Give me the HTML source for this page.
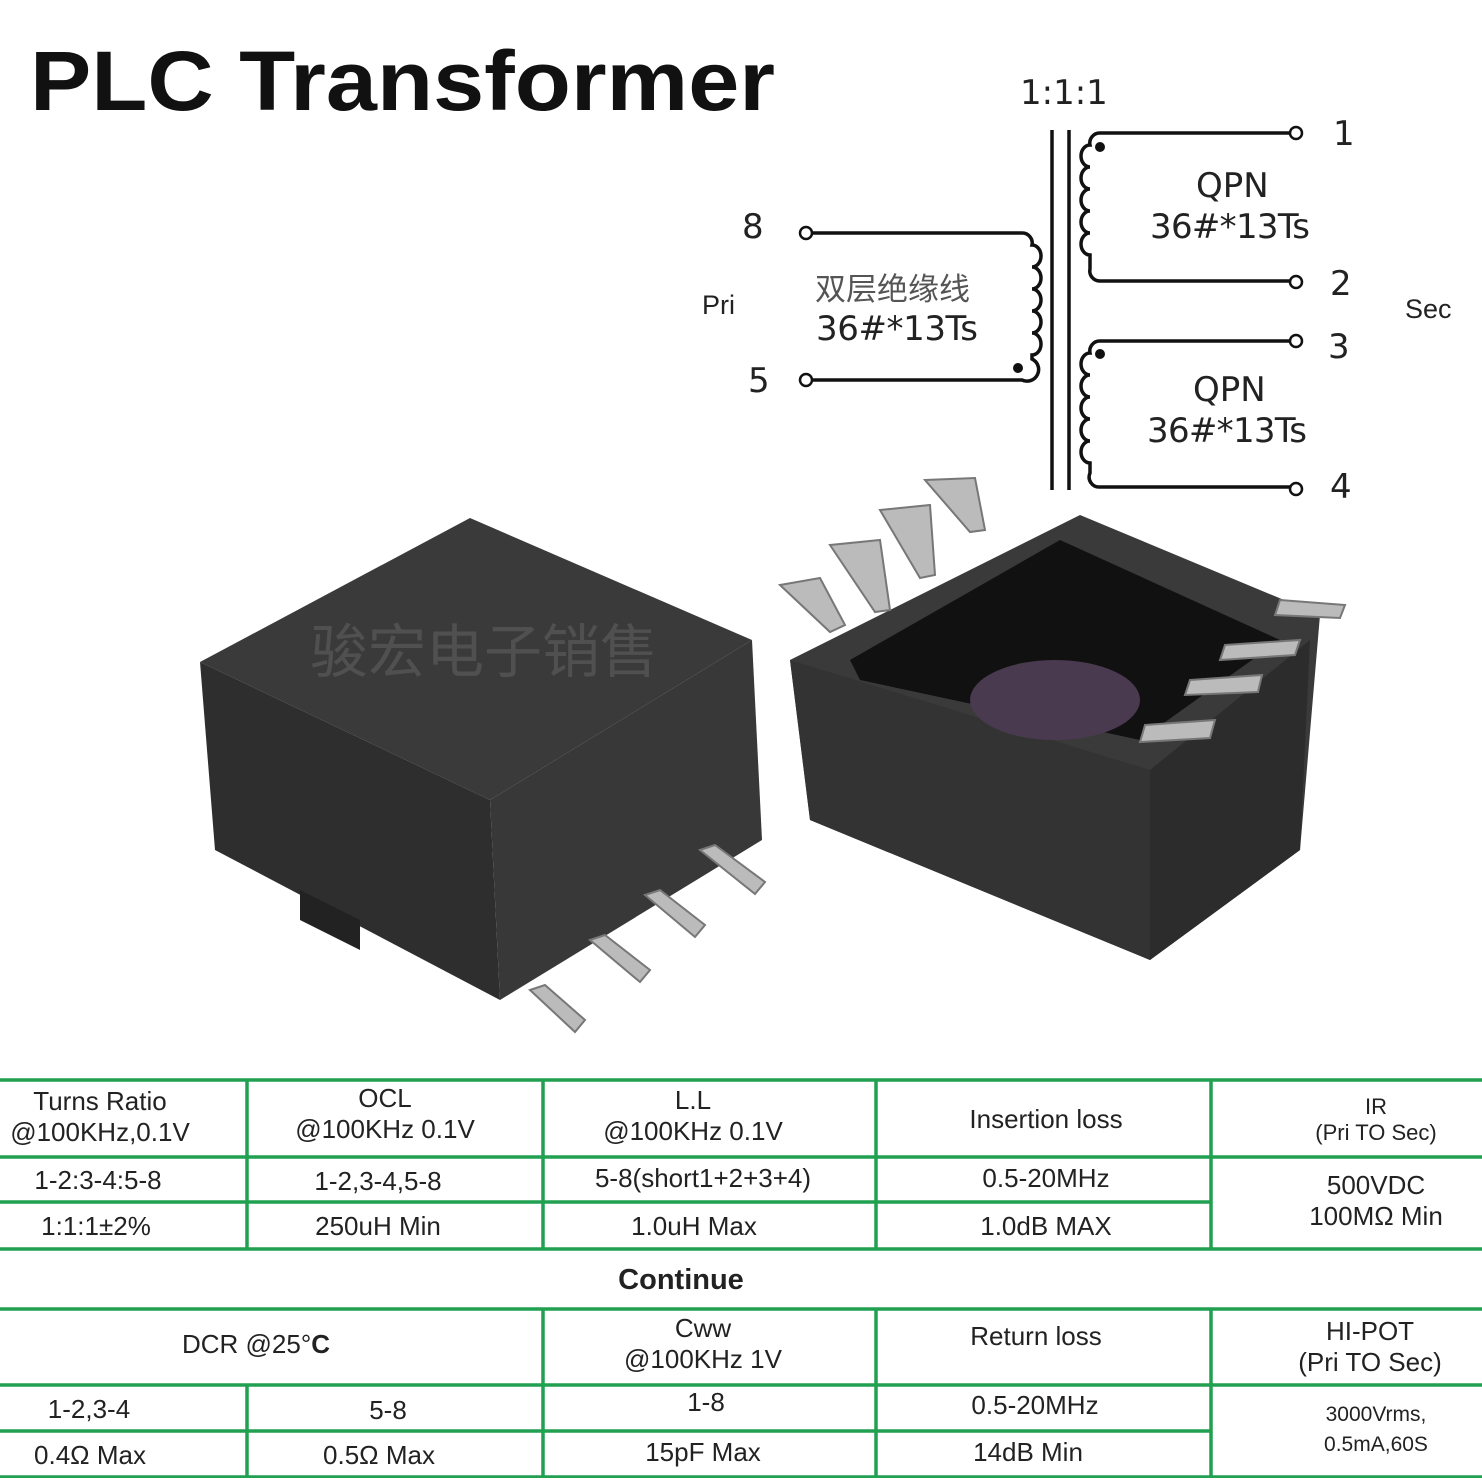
<!DOCTYPE html>
<html><head><meta charset="utf-8"><style>
body{margin:0;width:1482px;height:1482px;background:#fff;position:relative;overflow:hidden;font-family:"Liberation Sans","Noto Sans CJK SC",sans-serif;}
.t{position:absolute;color:#222;text-align:center;line-height:1.2;white-space:nowrap}
</style></head><body>
<svg width="1482" height="1482" style="position:absolute;left:0;top:0">
<text x="30" y="110" font-family="Liberation Sans,sans-serif" font-weight="bold" font-size="84" fill="#111" textLength="745" lengthAdjust="spacingAndGlyphs">PLC Transformer</text>
<g font-family="DejaVu Sans,sans-serif" font-size="34" fill="#222">
<text x="1020" y="104">1:1:1</text>
<text x="1333" y="145">1</text><text x="1330" y="295">2</text><text x="1328" y="358">3</text><text x="1330" y="498">4</text>
<text x="742" y="238">8</text><text x="748" y="392">5</text>
<text x="1196" y="197">QPN</text><text x="1150" y="238" textLength="160">36#*13Ts</text>
<text x="1193" y="401">QPN</text><text x="1147" y="442" textLength="160">36#*13Ts</text>
<text x="816" y="340" textLength="162">36#*13Ts</text>
</g>
<text x="815" y="300" font-family="Noto Sans CJK SC,sans-serif" font-size="31" fill="#555">双层绝缘线</text>
<text x="702" y="314" font-family="Liberation Sans,sans-serif" font-size="27" fill="#222">Pri</text>
<text x="1405" y="318" font-family="Liberation Sans,sans-serif" font-size="27" fill="#222">Sec</text>
<g stroke="#111" stroke-width="3.5" fill="none">
<line x1="1052" y1="130" x2="1052" y2="490"/><line x1="1069" y1="130" x2="1069" y2="490"/>
<path d="M1290 133 H1100 a10 10 0 0 0 -10 12 a9 11 0 0 0 0 22 a9 11 0 0 0 0 22 a9 11 0 0 0 0 22 a9 11 0 0 0 0 22 a9 11 0 0 0 0 22 v14 a10 10 0 0 0 10 12 H1290"/>
<path d="M1290 341 H1100 a10 10 0 0 0 -10 12 a9 11 0 0 0 0 22 a9 11 0 0 0 0 22 a9 11 0 0 0 0 22 a9 11 0 0 0 0 22 a9 11 0 0 0 0 22 v10 a10 10 0 0 0 10 14 H1290"/>
<path d="M812 233 H1022 a10 10 0 0 1 10 12 a9 11 0 0 1 0 22 a9 11 0 0 1 0 22 a9 11 0 0 1 0 22 a9 11 0 0 1 0 22 a9 11 0 0 1 0 22 v4 a10 10 0 0 1 -10 21 H812"/>
<circle cx="1296" cy="133" r="6" stroke-width="2.5" fill="#fff"/><circle cx="1296" cy="282" r="6" stroke-width="2.5" fill="#fff"/>
<circle cx="1296" cy="341" r="6" stroke-width="2.5" fill="#fff"/><circle cx="1296" cy="489" r="6" stroke-width="2.5" fill="#fff"/>
<circle cx="806" cy="233" r="6" stroke-width="2.5" fill="#fff"/><circle cx="806" cy="380" r="6" stroke-width="2.5" fill="#fff"/>
</g>
<circle cx="1100" cy="147" r="5" fill="#111"/><circle cx="1100" cy="354" r="5" fill="#111"/><circle cx="1018" cy="368" r="5" fill="#111"/>
<!-- left component -->
<polygon points="200,662 470,518 752,640 490,800" fill="#3a3a3a"/>
<polygon points="200,662 490,800 500,1000 215,850" fill="#2e2e2e"/>
<polygon points="490,800 752,640 762,840 500,1000" fill="#383838"/>
<polygon points="300,890 360,920 360,950 300,920" fill="#222"/>
<g fill="#bbb" stroke="#777" stroke-width="2">
<polygon points="530,990 545,985 585,1020 575,1032"/><polygon points="590,940 605,935 650,970 640,982"/>
<polygon points="645,895 660,890 705,925 695,937"/><polygon points="700,850 715,845 765,882 755,894"/>
</g>
<text x="310" y="672" font-family="Noto Sans CJK SC,sans-serif" font-size="58" fill="#555" fill-opacity="0.85">骏宏电子销售</text>
<!-- right component -->
<polygon points="790,660 1080,515 1320,615 1300,850 1150,960 810,820" fill="#3a3a3a"/>
<polygon points="850,660 1060,540 1280,640 1140,740 860,680" fill="#111"/>
<polygon points="790,660 1150,770 1150,960 810,820" fill="#333"/>
<polygon points="1150,770 1310,640 1300,850 1150,960" fill="#2c2c2c"/>
<ellipse cx="1055" cy="700" rx="85" ry="40" fill="#4a3a50"/>
<g fill="#bbb" stroke="#777" stroke-width="2">
<polygon points="780,585 820,578 845,625 830,632"/><polygon points="830,545 880,540 890,610 875,612"/>
<polygon points="880,510 930,505 935,575 920,578"/><polygon points="925,480 975,478 985,530 970,532"/>
<polygon points="1280,600 1345,605 1340,618 1275,615"/><polygon points="1225,645 1300,640 1295,655 1220,660"/>
<polygon points="1190,680 1262,675 1258,692 1185,695"/><polygon points="1145,725 1215,720 1210,738 1140,742"/>
</g>
</svg>
<svg width="1482" height="400" style="position:absolute;left:0;top:1078px" viewBox="0 1078 1482 400">
<g stroke="#20a050" stroke-width="3.5">
<line x1="0" y1="1080" x2="1482" y2="1080"/><line x1="0" y1="1157" x2="1482" y2="1157"/>
<line x1="0" y1="1202" x2="1211" y2="1202"/><line x1="0" y1="1249" x2="1482" y2="1249"/>
<line x1="0" y1="1309" x2="1482" y2="1309"/><line x1="0" y1="1385" x2="1482" y2="1385"/>
<line x1="0" y1="1431" x2="1211" y2="1431"/><line x1="0" y1="1477" x2="1482" y2="1477"/>
<line x1="247" y1="1080" x2="247" y2="1249"/><line x1="543" y1="1080" x2="543" y2="1249"/>
<line x1="876" y1="1080" x2="876" y2="1249"/><line x1="1211" y1="1080" x2="1211" y2="1249"/>
<line x1="247" y1="1385" x2="247" y2="1477"/><line x1="543" y1="1309" x2="543" y2="1477"/>
<line x1="876" y1="1309" x2="876" y2="1477"/><line x1="1211" y1="1309" x2="1211" y2="1477"/>
</g></svg>
<div class="t" style="left:0;width:200px;top:1086px;font-size:26px">Turns Ratio<br>@100KHz,0.1V</div>
<div class="t" style="left:247px;width:276px;top:1083px;font-size:26px">OCL<br>@100KHz 0.1V</div>
<div class="t" style="left:543px;width:300px;top:1085px;font-size:26px">L.L<br>@100KHz 0.1V</div>
<div class="t" style="left:876px;width:340px;top:1104px;font-size:26px">Insertion loss</div>
<div class="t" style="left:1211px;width:330px;top:1094px;font-size:22px">IR<br>(Pri TO Sec)</div>
<div class="t" style="left:0;width:196px;top:1165px;font-size:26px">1-2:3-4:5-8</div>
<div class="t" style="left:247px;width:262px;top:1166px;font-size:26px">1-2,3-4,5-8</div>
<div class="t" style="left:543px;width:320px;top:1163px;font-size:26px">5-8(short1+2+3+4)</div>
<div class="t" style="left:876px;width:340px;top:1163px;font-size:26px">0.5-20MHz</div>
<div class="t" style="left:1211px;width:330px;top:1170px;font-size:26px">500VDC<br>100MΩ Min</div>
<div class="t" style="left:0;width:192px;top:1211px;font-size:26px">1:1:1±2%</div>
<div class="t" style="left:247px;width:262px;top:1211px;font-size:26px">250uH Min</div>
<div class="t" style="left:543px;width:302px;top:1211px;font-size:26px">1.0uH Max</div>
<div class="t" style="left:876px;width:340px;top:1211px;font-size:26px">1.0dB MAX</div>
<div class="t" style="left:0;width:1362px;top:1263px;font-size:29px;font-weight:bold">Continue</div>
<div class="t" style="left:0;width:512px;top:1329px;font-size:26px">DCR @25°<b>C</b></div>
<div class="t" style="left:543px;width:320px;top:1313px;font-size:26px">Cww<br>@100KHz 1V</div>
<div class="t" style="left:876px;width:320px;top:1321px;font-size:26px">Return loss</div>
<div class="t" style="left:1211px;width:318px;top:1316px;font-size:26px">HI-POT<br>(Pri TO Sec)</div>
<div class="t" style="left:0;width:178px;top:1394px;font-size:26px">1-2,3-4</div>
<div class="t" style="left:247px;width:282px;top:1395px;font-size:26px">5-8</div>
<div class="t" style="left:543px;width:326px;top:1387px;font-size:26px">1-8</div>
<div class="t" style="left:876px;width:318px;top:1390px;font-size:26px">0.5-20MHz</div>
<div class="t" style="left:1211px;width:330px;top:1400px;font-size:21px;line-height:1.45">3000Vrms,<br>0.5mA,60S</div>
<div class="t" style="left:0;width:180px;top:1440px;font-size:26px">0.4Ω Max</div>
<div class="t" style="left:247px;width:264px;top:1440px;font-size:26px">0.5Ω Max</div>
<div class="t" style="left:543px;width:320px;top:1437px;font-size:26px">15pF Max</div>
<div class="t" style="left:876px;width:304px;top:1437px;font-size:26px">14dB Min</div>
</body></html>
